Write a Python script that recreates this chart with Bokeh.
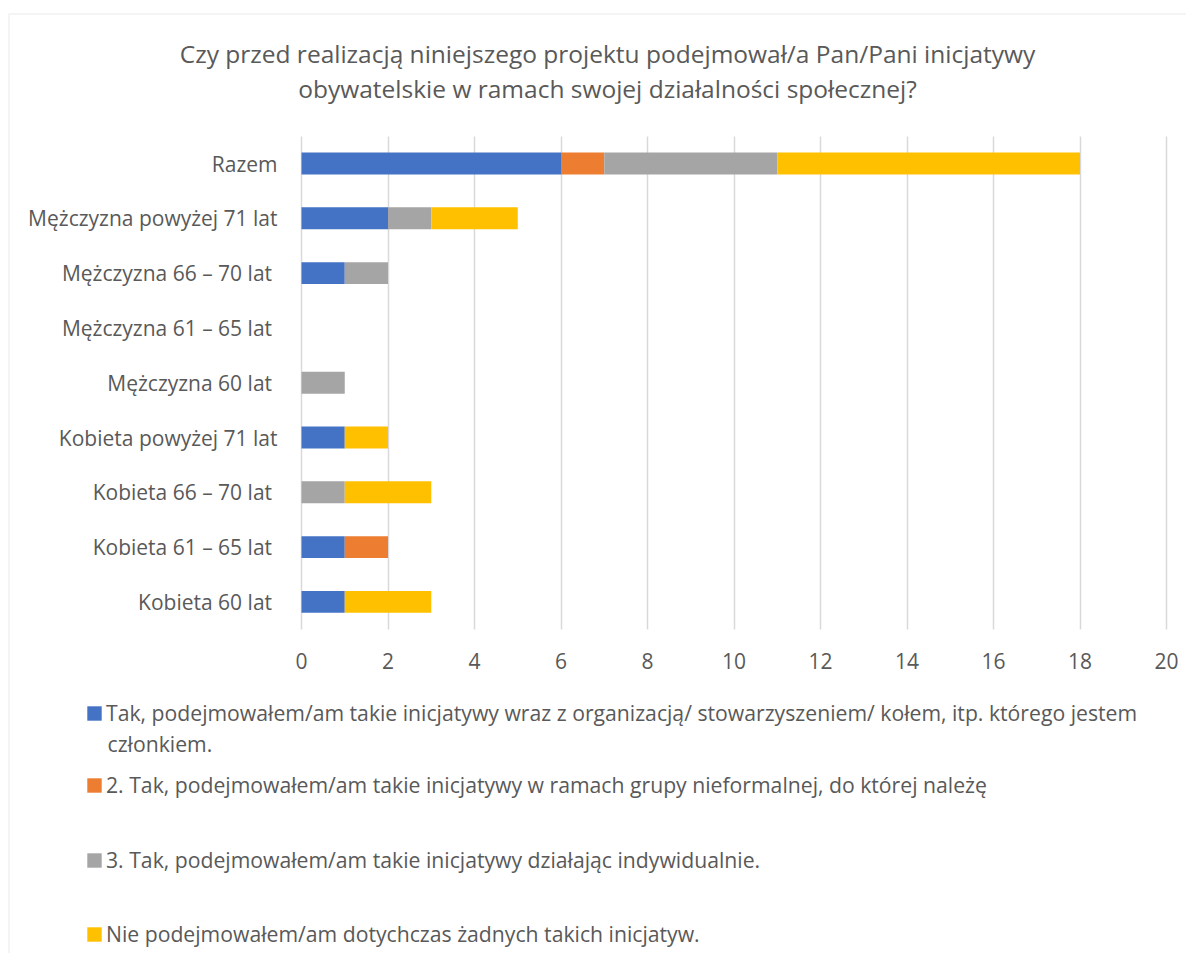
from bokeh.plotting import figure
from bokeh.models import (Range1d, Legend, LegendItem, Label, PolyAnnotation, FixedTicker)
from bokeh.embed import file_html
from bokeh.resources import INLINE

title_lines = ["Czy przed realizacją niniejszego projektu podejmował/a Pan/Pani inicjatywy",
               "obywatelskie w ramach swojej działalności społecznej?"]

categories = ["Razem", "Mężczyzna powyżej 71 lat", "Mężczyzna 66 – 70 lat ",
              "Mężczyzna 61 – 65 lat ", "Mężczyzna 60 lat ", "Kobieta powyżej 71 lat",
              "Kobieta 66 – 70 lat ", "Kobieta 61 – 65 lat ", "Kobieta 60 lat "]

series_names = [
    "Tak, podejmowałem/am takie inicjatywy wraz z organizacją/ stowarzyszeniem/ kołem, itp. którego jestem",
    "2. Tak, podejmowałem/am takie inicjatywy w ramach grupy nieformalnej, do której należę",
    "3. Tak, podejmowałem/am takie inicjatywy działając indywidualnie.",
    "Nie podejmowałem/am dotychczas żadnych takich inicjatyw.",
]
series_name_cont = "członkiem."

tak_organizacja = [6, 2, 1, 0, 0, 1, 0, 1, 1]
tak_nieformalna = [1, 0, 0, 0, 0, 0, 0, 1, 0]
tak_indywidualnie = [4, 1, 1, 0, 1, 0, 1, 0, 0]
nie = [7, 2, 0, 0, 0, 1, 2, 0, 2]

x_ticks = [0, 2, 4, 6, 8, 10, 12, 14, 16, 18, 20]
x_min, x_max = 0, 20
colors = ["#4472C4", "#ED7D31", "#A5A5A5", "#FFC000"]

# ---- layout constants (pixels) ----
W, H = 1186, 953
FONT = "Open Sans"
TXT = "#595959"
X0_PX, X20_PX = 301, 1166          # pixel position of x=0 and x=20
ROW0_PX, ROW_STEP = 163.0, 54.8    # centre of first row, row spacing

px_per_unit = (X20_PX - X0_PX) / (x_max - x_min)
xr = Range1d(x_min - X0_PX / px_per_unit, x_min + (W - X0_PX) / px_per_unit)
yr = Range1d((H - ROW0_PX) / ROW_STEP, -ROW0_PX / ROW_STEP)   # inverted: row 0 on top

n = len(categories)
rows = list(range(n))
keys = ["s0", "s1", "s2", "s3"]
data = {"y": rows, "s0": tak_organizacja, "s1": tak_nieformalna,
        "s2": tak_indywidualnie, "s3": nie}

p = figure(width=W, height=H, output_backend="svg", toolbar_location=None,
           x_range=xr, y_range=yr)
p.min_border = 0
p.min_border_left = p.min_border_right = p.min_border_top = p.min_border_bottom = 0
p.outline_line_color = None
p.background_fill_color = "white"
p.border_fill_color = "white"

renderers = p.hbar_stack(keys, y="y", height=0.4, color=colors, line_color=None,
                         source=data)

p.ygrid.grid_line_color = None
p.xgrid.ticker = FixedTicker(ticks=x_ticks)
p.xgrid.grid_line_color = "#D9D9D9"
p.xgrid.grid_line_width = 1.5
p.xgrid.cross_bounds = (-0.5, n - 0.5)

xa = p.xaxis[0]
ya = p.yaxis[0]
xa.ticker = FixedTicker(ticks=x_ticks)
xa.fixed_location = n - 0.5
ya.ticker = FixedTicker(ticks=rows)
ya.major_label_overrides = {i: c for i, c in zip(rows, categories)}
ya.fixed_location = x_min
for ax in (xa, ya):
    ax.axis_line_color = None
    ax.major_tick_line_color = None
    ax.minor_tick_line_color = None
    ax.major_label_text_font = FONT
    ax.major_label_text_font_size = "21px"
    ax.major_label_text_color = TXT
ya.major_label_standoff = 18
xa.major_label_standoff = 18

# Title
for line, yy in zip(title_lines, [52.5, 88]):
    p.add_layout(Label(x=607, y=H - yy, x_units="screen", y_units="screen",
                       text=line, text_align="center", text_baseline="middle",
                       text_font=FONT, text_font_size="24.5px", text_color=TXT))

# Chart border
p.add_layout(PolyAnnotation(xs=[8.5, 8.5, W + 50, W + 50], ys=[-50, H - 13.5, H - 13.5, -50],
                            xs_units="screen", ys_units="screen",
                            fill_alpha=0, line_color="#D9D9D9", line_width=2))

# Legend (one block per entry, as in the reference)
legend_centres = [715, 787, 862, 936]
for r, name, cy in zip(renderers, series_names, legend_centres):
    lg = Legend(items=[LegendItem(label=name, renderers=[r])], location=(85, H - cy - 12),
                padding=0, margin=0, border_line_color=None, background_fill_alpha=0,
                glyph_width=18, glyph_height=18, label_standoff=3, label_height=24,
                label_text_font=FONT, label_text_font_size="21.2px", label_text_color=TXT,
                label_text_baseline="middle")
    p.add_layout(lg, "center")

p.add_layout(Label(x=107, y=H - 743, x_units="screen", y_units="screen",
                   text=series_name_cont, text_baseline="middle",
                   text_font=FONT, text_font_size="21.2px", text_color=TXT))

open("out.html", "w").write(file_html(p, INLINE))
